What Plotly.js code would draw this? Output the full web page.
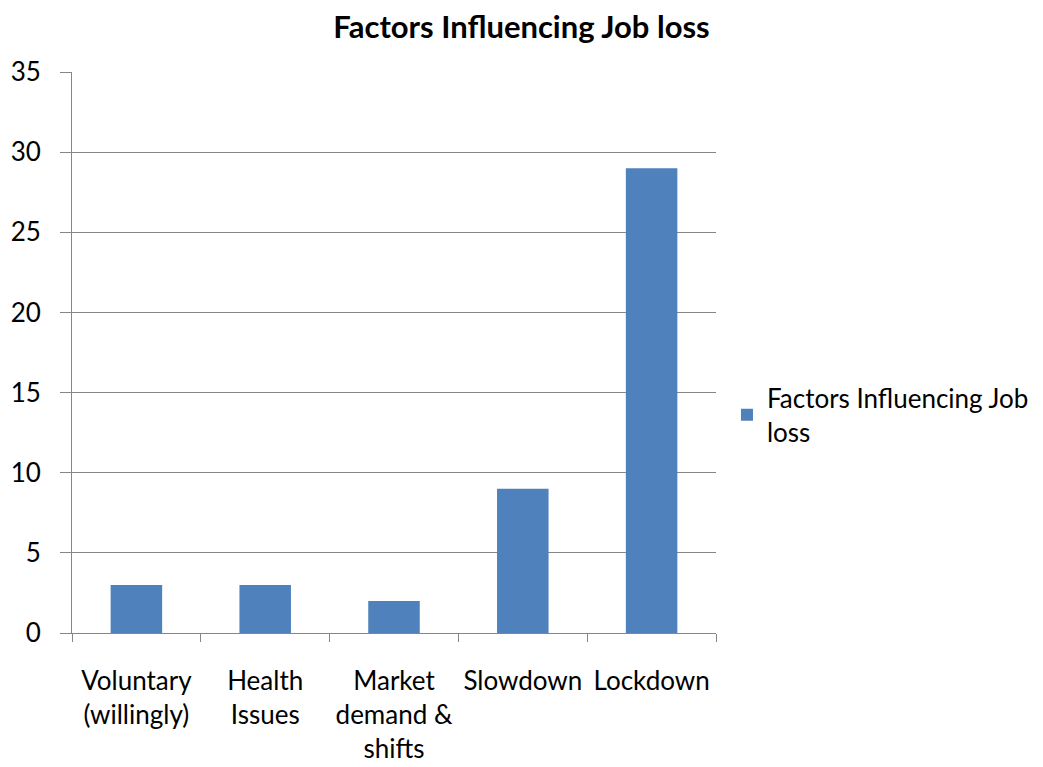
<!DOCTYPE html>
<html>
<head>
<meta charset="utf-8">
<script src="https://cdn.plot.ly/plotly-3.0.1.min.js"></script>
<style>html,body{margin:0;padding:0;background:#fff;}#chart{width:1043px;height:767px;}</style>
</head>
<body>
<div id="chart"></div>
<script>
const categories = ["Voluntary<br>(willingly)", "Health<br>Issues", "Market<br>demand &amp;<br>shifts", "Slowdown", "Lockdown"];
const values = [3, 3, 2, 9, 29];
const seriesName = "Factors Influencing Job<br>loss";
const yTicks = [0, 5, 10, 15, 20, 25, 30, 35];

const font = "Lato, 'Open Sans', 'Noto Sans', sans-serif";

Plotly.newPlot("chart", [{
  type: "bar",
  x: categories,
  y: values,
  name: seriesName,
  showlegend: true,
  marker: {color: "#4f81bd"},
  hoverinfo: "x+y"
}], {
  width: 1043,
  height: 767,
  margin: {l: 72, r: 327, t: 72, b: 134},
  paper_bgcolor: "#ffffff",
  plot_bgcolor: "#ffffff",
  bargap: 0.6,
  font: {family: font, size: 26, color: "#000000"},
  title: {
    text: "<b>Factors Influencing Job loss</b>",
    font: {family: font, size: 31, color: "#000000"},
    x: 0.5, xref: "container", xanchor: "center",
    y: 0.965, yref: "container", yanchor: "middle"
  },
  xaxis: {
    type: "category",
    automargin: false,
    tickangle: 0,
    showgrid: false,
    showline: true,
    linecolor: "#868686",
    linewidth: 1,
    ticks: "outside",
    tickson: "boundaries",
    ticklen: 8,
    tickcolor: "#868686",
    tickfont: {family: font, size: 26, color: "#000000"},
    ticklabelstandoff: 25,
    fixedrange: true
  },
  yaxis: {
    automargin: false,
    range: [0, 35],
    tickvals: yTicks,
    ticktext: yTicks.map(String),
    showgrid: true,
    gridcolor: "#868686",
    gridwidth: 1,
    zeroline: false,
    showline: true,
    linecolor: "#868686",
    linewidth: 1,
    ticks: "outside",
    ticklen: 11,
    tickcolor: "#868686",
    tickfont: {family: font, size: 26, color: "#000000"},
    ticklabelstandoff: 14,
    fixedrange: true
  },
  legend: {
    xref: "container", yref: "container",
    x: 0.697, xanchor: "left",
    y: 0.459, yanchor: "middle",
    font: {family: font, size: 26, color: "#000000"},
    itemwidth: 30,
    bgcolor: "rgba(0,0,0,0)"
  }
}, {displayModeBar: false, staticPlot: true});
</script>
</body>
</html>
